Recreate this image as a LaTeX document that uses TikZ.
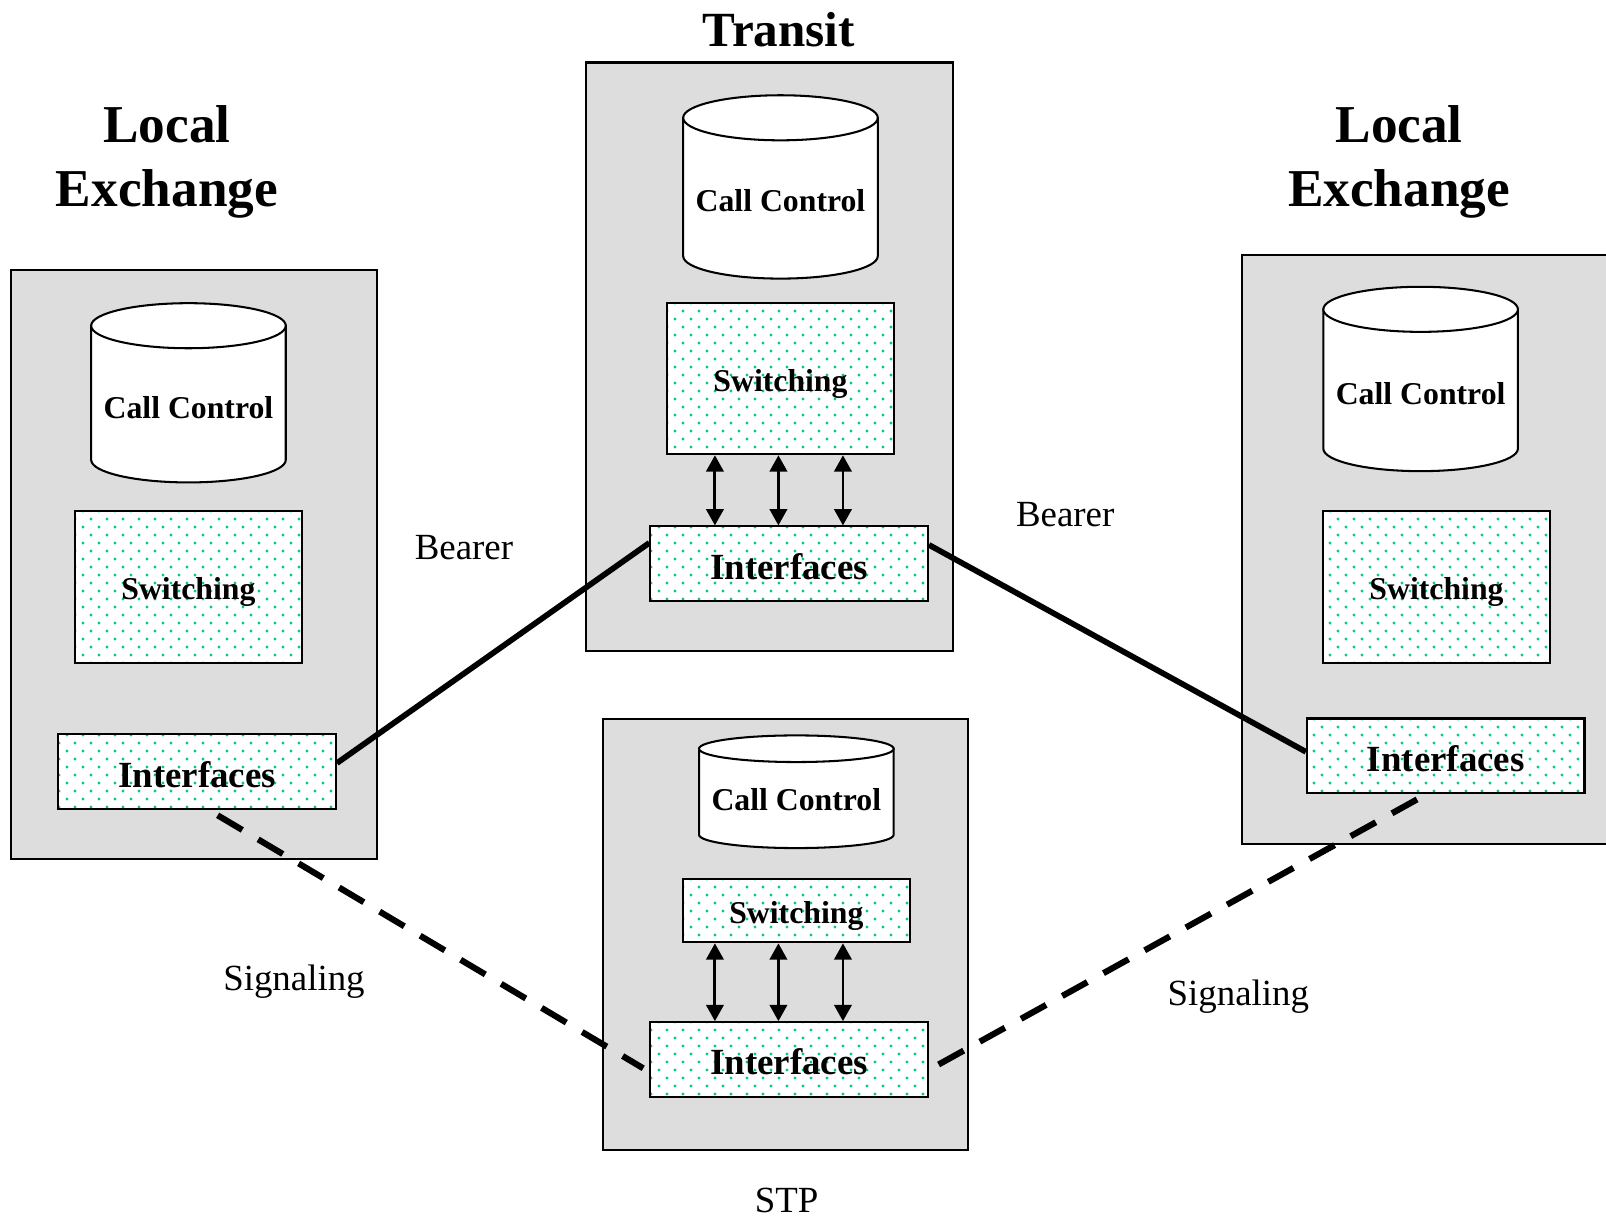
\documentclass[tikz,border=0pt]{standalone}
\usepackage{fontspec}
\setmainfont{Liberation Serif}
\usetikzlibrary{calc,patterns,arrows.meta}
\definecolor{boxgray}{RGB}{221,221,221}
\definecolor{dotgreen}{RGB}{0,200,150}
\pgfdeclarepatternformonly{tealdots}{\pgfpointorigin}{\pgfpoint{7.8pt}{7.8pt}}{\pgfpoint{7.8pt}{7.8pt}}{%
  \pgfpathcircle{\pgfpoint{1.95pt}{1.95pt}}{0.8pt}%
  \pgfpathcircle{\pgfpoint{5.85pt}{5.85pt}}{0.8pt}%
  \pgfusepath{fill}}
\def\drum(#1,#2)(#3:#4){%
  \filldraw[drumline] ({#1-95},#2) -- ({#1-95},#3) arc[start angle=180,end angle=0,x radius=95,y radius=#4] -- ({#1+95},#2) -- cycle;
  \filldraw[drumline] (#1,#2) ellipse[x radius=95,y radius=#4];}
\tikzset{
  exch/.style={draw=black,fill=boxgray,line width=1pt},
  unit/.style={draw=black,line width=1pt,preaction={fill=white},pattern=tealdots,pattern color=dotgreen,inner sep=0pt,text depth=0pt,text height=12.5pt,font=\fontsize{15.5}{18}\selectfont\bfseries},
  switchbox/.style={unit,minimum width=111pt,minimum height=74pt},
  ifbox/.style={unit,minimum width=135.5pt,minimum height=36.5pt,text height=15pt,font=\fontsize{18}{21}\selectfont\bfseries},
  drumline/.style={draw=black,fill=white,line width=1pt},
  cctext/.style={font=\fontsize{15.5}{18}\selectfont\bfseries},
  title/.style={align=center,font=\fontsize{26}{31.25}\selectfont\bfseries},
  linktext/.style={anchor=base,font=\fontsize{18}{21}\selectfont},
  bearer/.style={line width=2.8pt},
  signal/.style={line width=3pt,dash pattern=on 14pt off 9pt},
  link/.style={line width=1.4pt,{Triangle[width=8.5pt,length=8pt]}-{Triangle[width=8.5pt,length=8pt]}}
}
\begin{document}
\begin{tikzpicture}[x=0.5pt,y=-0.5pt]
	\useasboundingbox (0,0) rectangle (1568,1189);
	
	%%%%% titles
	\node[title] (lt) at (163,158.4) {Local\\Exchange};
	\node[title] (rt) at (1366,158.4) {Local\\Exchange};
	\node[title,anchor=base,font=\fontsize{24}{28}\selectfont\bfseries] (tt) at (760.5,45.6) {Transit};
	
	%%%%% exchanges
	\draw[exch] (11,264) rectangle (368,839);
	\draw[exch] (572,61) rectangle (930,636);
	\draw[exch] (1213,249) rectangle (1580,824);
	\draw[exch] (588.6,702) rectangle (945,1123);
	
	%%%%% call control
	\drum(184,318)(449:22)
	\node[cctext] (lcc) at (184,398) {Call Control};
	\drum(762,115)(250:22)
	\node[cctext] (tcc) at (762,196) {Call Control};
	\drum(1387,302)(438:22)
	\node[cctext] (rcc) at (1387,384) {Call Control};
	\drum(777.5,731)(815:13)
	\node[cctext] (scc) at (777.5,781) {Call Control};
	
	%%%%% switching and interfaces
	\node[switchbox] (ls) at (184,573) {Switching};
	\node[ifbox] (li) at (192.5,753.5) {Interfaces};
	
	\node[switchbox] (ts) at (762,369.5) {Switching};
	\node[ifbox] (ti) at (770.5,550.5) {Interfaces};
	
	\node[switchbox] (rs) at (1402.5,573) {Switching};
	\node[ifbox] (ri) at (1411.5,738) {Interfaces};
	
	\node[switchbox,minimum height=31pt] (ss) at (777.5,889) {Switching};
	\node[ifbox] (si) at (770.5,1034.5) {Interfaces};
	
	\draw[link] (ts.south -| 698,0) -- (ti.north -| 698,0);
	\draw[link] (ts.south -| 760,0) -- (ti.north -| 760,0);
	\draw[link] (ts.south -| 823,0) -- (ti.north -| 823,0);
	
	\draw[link] (ss.south -| 698,0) -- (si.north -| 698,0);
	\draw[link] (ss.south -| 760,0) -- (si.north -| 760,0);
	\draw[link] (ss.south -| 823,0) -- (si.north -| 823,0);
	
	%%%%% bearer
	\draw[bearer] ($(li.east)+(0,-8.5)$) -- ($(ti.west)+(0,-20.5)$);
	\draw[bearer] ($(ti.east)+(0,-18.5)$) -- ($(ri.west)+(0,-4)$);
	\node[linktext] (lb) at (453,546) {Bearer};
	\node[linktext] (rb) at (1040,514) {Bearer};
	
	%%%%% signaling
	\draw[signal] ($(li.south)+(20,5)$) -- ($(si.west)+(-6,8.5)$);
	\draw[signal] ($(ri.south)+(-28,5)$) -- ($(si.east)+(0,10)$);
	\node[linktext] (ls1) at (287,967) {Signaling};
	\node[linktext] (rs1) at (1209,982) {Signaling};
	
	\node[linktext] (stp) at (768,1184) {STP};
\end{tikzpicture}
\end{document}
